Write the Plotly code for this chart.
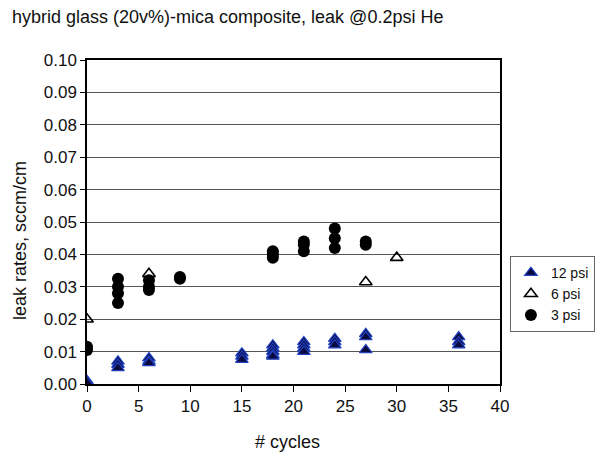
import plotly.graph_objects as go

# 12 psi (filled triangles)
x12 = [0, 0, 3, 3, 3, 6, 6, 6, 15, 15, 15, 18, 18, 18, 18, 18, 21, 21, 21, 21, 24, 24, 24, 27, 27, 27, 36, 36, 36]
y12 = [0.001, 0.0005, 0.007, 0.006, 0.005, 0.008, 0.007, 0.0065, 0.0095, 0.0085, 0.0075,
       0.012, 0.011, 0.010, 0.009, 0.0085, 0.013, 0.012, 0.011, 0.010, 0.014, 0.013, 0.012,
       0.0155, 0.0145, 0.0105, 0.0145, 0.013, 0.012]
# 6 psi (open triangles)
x6 = [0, 6, 27, 30]
y6 = [0.020, 0.034, 0.0315, 0.039]
# 3 psi (filled circles)
x3 = [0, 0, 3, 3, 3, 3, 6, 6, 6, 9, 9, 18, 18, 18, 21, 21, 21, 24, 24, 24, 27, 27]
y3 = [0.0115, 0.0105, 0.0325, 0.030, 0.028, 0.025, 0.032, 0.030, 0.029, 0.033, 0.0325,
      0.041, 0.040, 0.039, 0.044, 0.043, 0.041, 0.048, 0.045, 0.042, 0.044, 0.043]

x_ticks = [0, 5, 10, 15, 20, 25, 30, 35, 40]
y_ticks = [i / 100 for i in range(11)]

font = "Liberation Sans, Arial, sans-serif"
W, H = 600, 449  # page has an 8px body margin
PL, PT, PW, PH = 79, 52, 413, 324

fig = go.Figure()
fig.add_trace(go.Scatter(x=x12, y=y12, mode="markers", name="12 psi",
                         marker=dict(symbol="triangle-up", size=11, color="#0a0a40",
                                     line=dict(color="#2040c0", width=1.2))))
fig.add_trace(go.Scatter(x=x6, y=y6, mode="markers", name="6 psi",
                         marker=dict(symbol="triangle-up-open", size=11, color="black",
                                     line=dict(width=1.6))))
fig.add_trace(go.Scatter(x=x3, y=y3, mode="markers", name="3 psi",
                         marker=dict(symbol="circle", size=12, color="black")))

fig.update_layout(
    width=W, height=H,
    paper_bgcolor="white", plot_bgcolor="white",
    margin=dict(l=PL, r=W - PL - PW, t=PT, b=H - PT - PH, autoexpand=False),
    font=dict(family=font, size=16, color="#111"),
    title=dict(text="hybrid glass (20v%)-mica composite, leak @0.2psi He",
               x=4 / W, xanchor="left", y=1 - 9 / H, yanchor="middle",
               xref="container", yref="container",
               font=dict(size=18, family=font, color="#111"), automargin=False),
    showlegend=True,
    legend=dict(x=1.024, y=0.395, xanchor="left", yanchor="top",
                bordercolor="#666", borderwidth=1, bgcolor="white",
                font=dict(size=14), itemwidth=30, tracegroupgap=0),
    xaxis=dict(range=[0, 40], tickvals=x_ticks, ticktext=[str(v) for v in x_ticks],
               showgrid=False, zeroline=False, showline=True, linecolor="black",
               linewidth=1.5, mirror=True, ticks="outside", ticklen=6,
               tickcolor="black", automargin=False, tickfont=dict(size=17)),
    yaxis=dict(range=[0, 0.10], tickvals=y_ticks,
               ticktext=[f"{v:.2f}" for v in y_ticks],
               showgrid=True, gridcolor="#555", gridwidth=1.2, zeroline=False,
               showline=True, linecolor="black", linewidth=1.5, mirror=True,
               ticks="outside", ticklen=5, tickcolor="black", automargin=False,
               tickfont=dict(size=17)),
    annotations=[
        dict(text="# cycles", xref="paper", yref="paper",
             x=(279 - PL) / PW, y=-(434 - PT - PH) / PH, xanchor="center", yanchor="middle",
             showarrow=False, font=dict(size=18, family=font, color="#111")),
        dict(text="leak rates, sccm/cm", xref="paper", yref="paper", textangle=-90,
             x=-(PL - 12) / PW, y=(PT + PH - 233) / PH, xanchor="center", yanchor="middle",
             showarrow=False, font=dict(size=18, family=font, color="#111")),
    ],
)

fig.write_html("out.html")
